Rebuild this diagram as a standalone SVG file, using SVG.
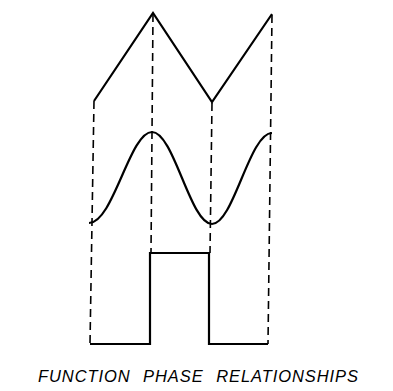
<svg xmlns="http://www.w3.org/2000/svg" width="393" height="391" viewBox="0 0 393 391">
<style>
.wave{fill:none;stroke:#000;stroke-width:2.2;stroke-linejoin:miter;stroke-linecap:butt}
.dash{fill:none;stroke:#000;stroke-width:1.6;stroke-dasharray:8 5}
.cap{font-family:"Liberation Sans",Arial,sans-serif;font-style:italic;font-size:16.5px;fill:#000;word-spacing:7px}
</style>
<rect width="393" height="391" fill="#fff"/>
<g id="guides">
<path class="dash" d="M94,101 L90,344"/>
<path class="dash" d="M153,14 L151,253"/>
<path class="dash" d="M212,103 L210,253"/>
<path class="dash" d="M272,15 L268,344"/>
</g>
<g id="triangle-wave">
<path class="wave" d="M94,101 L153,13 L212,102 L272,14"/>
</g>
<g id="sine-wave">
<path class="wave" d="M89,223 C113.2,223 129.8,132 152,132 C173.8,132 190.2,224 212,224 C233.5,224 249.5,133 272,133"/>
</g>
<g id="square-wave">
<path class="wave" d="M90,344 L150,344 L150,253 L209,253 L209,344 L268,344"/>
</g>
<g id="caption">
<text class="cap" x="38" y="382" textLength="320" lengthAdjust="spacing">FUNCTION PHASE RELATIONSHIPS</text>
</g>
</svg>
